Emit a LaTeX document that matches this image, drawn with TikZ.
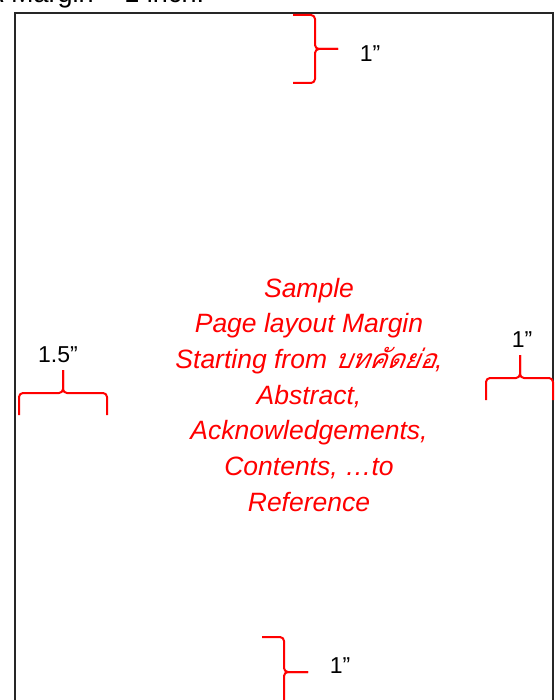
\documentclass[tikz,border=0pt]{standalone}
\usepackage{fontspec}
\setmainfont{Liberation Sans}
\newfontfamily\thaifont[Script=Thai,FakeSlant=0.2]{Loma}
\begin{document}
\begin{tikzpicture}[x=1pt,y=-1pt,
  pageline/.style={line width=2pt,draw=black!85},
  bracestroke/.style={line width=2pt,draw=red,rounded corners=4pt,line join=round},
  redtext/.style={text=red,inner sep=0pt,anchor=base,font=\fontsize{26.5}{31}\selectfont\itshape},
  dimtext/.style={text=black,inner sep=0pt,anchor=base,font=\fontsize{23}{28}\selectfont}]
\useasboundingbox[fill=white] (0,0) rectangle (558,700);
% page outline
\coordinate (pbl) at (15,712);
\coordinate (ptl) at (15,13);
\coordinate (ptr) at (553,13);
\coordinate (pbr) at (553,712);
\draw[pageline] (pbl) -- (ptl) -- (ptr) -- (pbr);
% header text (cut off at the top)
\node[text=black,inner sep=0pt,anchor=base west,font=\fontsize{27}{32}\selectfont] (hdr) at (-14.5,2.5) {A Margin = 1 inch.};
% top brace
\draw[bracestroke] (293,15) -- (315,15) -- (315,49) -- (338,49);
\draw[bracestroke] (293,83) -- (315,83) -- (315,49) -- (338,49);
\node[dimtext] (ltop) at (370,62) {1”};
% left brace
\draw[bracestroke] (19,415) -- (19,393) -- (63,393) -- (63,370);
\draw[bracestroke] (107,415) -- (107,393) -- (63,393) -- (63,370);
\node[dimtext] (lleft) at (58,362) {1.5”};
% right brace
\draw[bracestroke] (486,400) -- (486,378) -- (520,378) -- (520,355);
\draw[bracestroke] (553,400) -- (553,378) -- (520,378) -- (520,355);
\node[dimtext] (lright) at (522,347) {1”};
% bottom brace
\draw[bracestroke] (262,637) -- (284,637) -- (284,672) -- (308,672);
\draw[bracestroke] (284,712) -- (284,672) -- (308,672);
\node[dimtext] (lbottom) at (340,673) {1”};
% central text
\node[redtext] (t1) at (309,297) {Sample};
\node[redtext] (t2) at (309,332.7) {Page layout Margin};
\node[redtext] (t3) at (309,368.4) {Starting from {\thaifont บทคัดย่อ},};
\node[redtext] (t4) at (309,404.1) {Abstract,};
\node[redtext] (t5) at (309,439.8) {Acknowledgements,};
\node[redtext] (t6) at (309,475.5) {Contents, …to};
\node[redtext] (t7) at (309,511.2) {Reference};
\end{tikzpicture}
\end{document}
